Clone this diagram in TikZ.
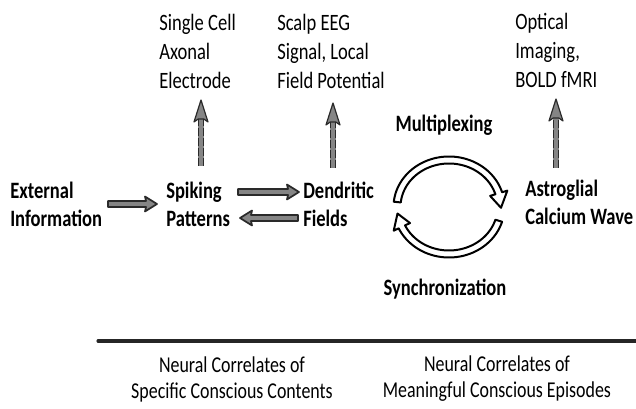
\documentclass[tikz,border=0pt]{standalone}
\usepackage{fontspec}
\setmainfont{Carlito}[FakeStretch=0.79]
\usetikzlibrary{calc}
\definecolor{arrfill}{HTML}{858585}
\definecolor{arrline}{HTML}{2A2A2A}
\tikzset{
  lbl/.style={font=\fontsize{17.6pt}{21.75pt}\selectfont, align=left, inner sep=0pt, anchor=west},
  blbl/.style={font=\fontsize{17.6pt}{21pt}\selectfont\bfseries, align=left, inner sep=0pt, anchor=west},
  clbl/.style={font=\fontsize{17pt}{19.5pt}\selectfont, align=center, inner sep=0pt},
  harr/.style={fill=arrfill, draw=arrline, line width=1.3pt, line join=round},
  ushaft/.style={fill=arrfill, draw=none},
  uside/.style={draw=arrline, line width=1pt, dash pattern=on 6pt off 1.5pt},
  uhead/.style={fill=arrfill, draw=arrline, line width=0.9pt, line join=round},
  ring/.style={fill=white, draw=black, line width=1.5pt, line join=round},
}
\newcommand\rblock[2]{\draw[harr] ($(#1)+(0,-3)$) -- ($(#2)+(-11,-3)$) -- ($(#2)+(-12,-7.5)$) -- (#2) -- ($(#2)+(-12,7.5)$) -- ($(#2)+(-11,3)$) -- ($(#1)+(0,3)$) -- cycle;}
\newcommand\lblock[2]{\draw[harr] ($(#1)+(0,-3)$) -- ($(#2)+(11,-3)$) -- ($(#2)+(12,-7.5)$) -- (#2) -- ($(#2)+(12,7.5)$) -- ($(#2)+(11,3)$) -- ($(#1)+(0,3)$) -- cycle;}
\newcommand\ublock[2]{%
  \fill[ushaft] ($(#1)+(-2.8,0)$) rectangle ($(#2)+(2.8,19)$);
  \draw[uside] ($(#1)+(-2.8,0)$) -- ($(#2)+(-2.8,19)$);
  \draw[uside] ($(#1)+(2.8,0)$) -- ($(#2)+(2.8,19)$);
  \draw[uhead] ($(#2)+(-2.8,19)$) -- ($(#2)+(-7,22)$) -- (#2) -- ($(#2)+(7,22)$) -- ($(#2)+(2.8,19)$) -- cycle;}
\begin{document}
\begin{tikzpicture}[x=0.75pt,y=-0.75pt]
\useasboundingbox (0,0) rectangle (636,409);
% labels
\node[lbl] (single) at (159,51) {Single Cell\\Axonal\\Electrode};
\node[lbl] (scalp) at (277,51) {Scalp EEG\\Signal, Local\\Field Potential};
\node[lbl] (optical) at (515,50) {Optical\\Imaging,\\BOLD fMRI};
\node[blbl] (ext) at (10,204) {External\\Information};
\node[blbl] (spike) at (166,204) {Spiking\\Patterns};
\node[blbl] (dend) at (303,204) {Dendritic\\Fields};
\node[blbl] (astro) at (525,202) {Astroglial\\Calcium Wave};
\node[blbl, anchor=center] (multi) at (444,125) {Multiplexing};
\node[blbl, anchor=center] (sync) at (445,289) {Synchronization};
\node[clbl] (ncc1) at (232,379) {Neural Correlates of\\Specific Conscious Contents};
\node[clbl] (ncc2) at (497,379) {Neural Correlates of\\Meaningful Conscious Episodes};
% arrow end points
\coordinate (a1s) at (108,204); \coordinate (a1e) at (157,204);
\coordinate (a2s) at (238,192); \coordinate (a2e) at (299,192);
\coordinate (a3s) at (298,218); \coordinate (a3e) at (240,218);
\coordinate (u1s) at (201,166); \coordinate (u1e) at (201,100);
\coordinate (u2s) at (333,168); \coordinate (u2e) at (333,103);
\coordinate (u3s) at (556,168); \coordinate (u3e) at (556,99);
\rblock{a1s}{a1e}
\rblock{a2s}{a2e}
\lblock{a3s}{a3e}
\ublock{u1s}{u1e}
\ublock{u2s}{u2e}
\ublock{u3s}{u3e}
% ring arrows
\coordinate (C) at (449,207);
\draw[ring] plot[domain=186:343, samples=50, variable=\t] ({449+55.5*cos(\t)},{207+50.5*sin(\t)})
  -- ({449+61*cos(343)},{207+56*sin(343)}) -- ({449+52*cos(361)},{207+47*sin(361)})
  -- ({449+43*cos(343)},{207+38*sin(343)})
  -- plot[domain=343:186, samples=50, variable=\t] ({449+48.5*cos(\t)},{207+43.5*sin(\t)}) -- cycle;
\draw[ring] plot[domain=17:155, samples=50, variable=\t] ({449+55.5*cos(\t)},{207+50.5*sin(\t)})
  -- ({449+61*cos(155)},{207+56*sin(155)}) -- ({449+52*cos(172)},{207+47*sin(172)})
  -- ({449+43*cos(155)},{207+38*sin(155)})
  -- plot[domain=155:17, samples=50, variable=\t] ({449+48.5*cos(\t)},{207+43.5*sin(\t)}) -- cycle;
% base line
\coordinate (ls) at (98,341); \coordinate (le) at (636,341);
\draw[line width=2.3pt, draw=black!85, line cap=round] (ls) -- (le);
\end{tikzpicture}
\end{document}
